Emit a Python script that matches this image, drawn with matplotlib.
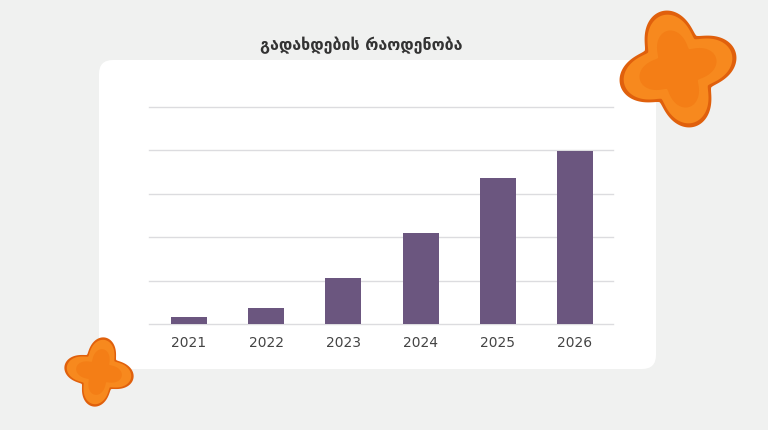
import numpy as np
import matplotlib.pyplot as plt
from matplotlib.patches import FancyBboxPatch, Polygon

plt.rcParams['font.family'] = ['DejaVu Sans']

# data (units of one gridline step)
years = ['2021', '2022', '2023', '2024', '2025', '2026']
payments = [0.17, 0.36, 1.05, 2.09, 3.37, 3.99]
title = 'გადახდების რაოდენობა'

BG = '#f0f1f0'
BAR = '#6b567f'
GRID = '#dcdcdf'
TEXT = '#444444'
W, H = 768, 431


def blob(cx, cy, r_in, r_out, phi, n=400):
    """Four-lobed balloon outline in pixel coords (y down)."""
    t = np.linspace(0, 2 * np.pi, n)
    k = ((1 + np.cos(4 * (t - np.radians(phi)))) / 2) ** 0.7
    r = r_in + (r_out - r_in) * k
    return np.column_stack([cx + r * np.cos(t), cy - r * np.sin(t)])


def draw_blob(ax, cx, cy, r_in, r_out, phi):
    ax.add_patch(Polygon(blob(cx, cy, r_in, r_out, phi), closed=True,
                         facecolor='#e0600c', edgecolor='none'))
    ax.add_patch(Polygon(blob(cx, cy, r_in * 0.9, r_out * 0.93, phi), closed=True,
                         facecolor='#f7891e', edgecolor='none'))
    ax.add_patch(Polygon(blob(cx, cy, r_in * 0.6, r_out * 0.66, phi), closed=True,
                         facecolor='#f47e16', edgecolor='none'))


fig = plt.figure(figsize=(W / 100, H / 100), dpi=100)
fig.patch.set_facecolor(BG)

# background layer: panel + decorations
bg = fig.add_axes([0, 0, 1, 1], zorder=0)
bg.set_xlim(0, W)
bg.set_ylim(H, 0)
bg.axis('off')
bg.add_patch(FancyBboxPatch((99, 61), 557, 309, boxstyle='round,pad=0,rounding_size=14',
                            facecolor='white', edgecolor='none'))
draw_blob(bg, 678, 70, 38, 60, 16)
draw_blob(bg, 99, 373, 21, 35, -10)
bg.text(361, 45, title, ha='center', va='center', fontsize=11.5,
        fontweight='bold', color='#333333')

# chart layer
ax = fig.add_axes([149 / W, 1 - 325 / H, (613 - 149) / W, (325 - 108) / H], zorder=1)
ax.patch.set_alpha(0)
x = np.arange(len(years))
ax.bar(x, payments, width=0.466, color=BAR, zorder=3)
ax.set_xlim(-0.518, 5.492)
ax.set_ylim(0, 5)
ax.set_yticks(range(6))
ax.yaxis.grid(True, color=GRID, linewidth=1, zorder=0)
for line in ax.get_ygridlines():
    line.set_clip_on(False)
ax.set_xticks(x)
ax.set_xticklabels(years, fontsize=10, color=TEXT)
ax.tick_params(axis='x', length=0, pad=8)
ax.tick_params(axis='y', length=0, labelleft=False)
for s in ax.spines.values():
    s.set_visible(False)

fig.savefig('out.png', dpi=100, facecolor=BG)
